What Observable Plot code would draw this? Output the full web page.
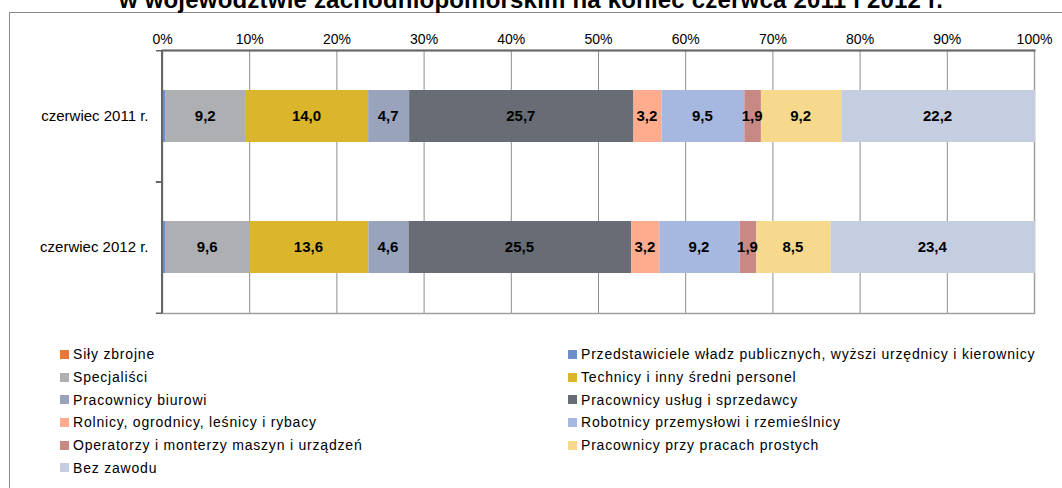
<!DOCTYPE html>
<html>
<head>
<meta charset="utf-8">
<script src="https://cdn.jsdelivr.net/npm/d3@7"></script>
<script src="https://cdn.jsdelivr.net/npm/@observablehq/plot@0.6"></script>
<style>
  html, body { margin: 0; padding: 0; background: #fff; }
  body { width: 1062px; height: 488px; overflow: hidden; position: relative; font-family: "Liberation Sans", Arial, sans-serif; }
  #frame { position: absolute; left: 9px; top: 12px; width: 1100px; height: 600px; border: 1px solid #8a8a8a; box-sizing: border-box; }
  #title { position: absolute; left: 0; width: 1062px; top: -12px; text-align: center; font-weight: bold; font-size: 24px; line-height: 24px; color: #000; white-space: nowrap; letter-spacing: 0.2px; }
  #chart { position: absolute; left: 0; top: 0; }
  #legend { position: absolute; left: 60px; top: 343px; display: grid; grid-template-columns: 508px auto; grid-auto-rows: 22.7px; font-size: 14px; letter-spacing: 0.8px; color: #000; }
  .item { display: flex; align-items: center; white-space: nowrap; }
  .sw { width: 9px; height: 9px; margin-right: 4px; flex: none; }
</style>
</head>
<body>
<div id="frame"></div>
<div id="title">w województwie zachodniopomorskim na koniec czerwca 2011 i 2012 r.</div>
<div id="chart"></div>
<div id="legend"></div>
<script>
const categories = ["czerwiec 2011 r.", "czerwiec 2012 r."];
const seriesNames = [
  "Siły zbrojne",
  "Przedstawiciele władz publicznych, wyższi urzędnicy i kierownicy",
  "Specjaliści",
  "Technicy i inny średni personel",
  "Pracownicy biurowi",
  "Pracownicy usług i sprzedawcy",
  "Rolnicy, ogrodnicy, leśnicy i rybacy",
  "Robotnicy przemysłowi i rzemieślnicy",
  "Operatorzy i monterzy maszyn i urządzeń",
  "Pracownicy przy pracach prostych",
  "Bez zawodu"
];
const values2011 = [0.0, 0.3, 9.2, 14.0, 4.7, 25.7, 3.2, 9.5, 1.9, 9.2, 22.2];
const values2012 = [0.0, 0.3, 9.6, 13.6, 4.6, 25.5, 3.2, 9.2, 1.9, 8.5, 23.4];
const seriesColors = ["#E07B39", "#6F8FCB", "#ADAFB3", "#DBB52B", "#99A3BC", "#686C74", "#FFAB8D", "#A6B8E0", "#C88884", "#F6D98C", "#C5CDE1"];
const xTicks = [0, 0.1, 0.2, 0.3, 0.4, 0.5, 0.6, 0.7, 0.8, 0.9, 1.0];

const rows = [];
[values2011, values2012].forEach((vals, ci) => {
  vals.forEach((v, si) => rows.push({year: categories[ci], cat: seriesNames[si], value: v}));
});

const fmt = v => v.toFixed(1).replace(".", ",");
const stackOpts = {x: "value", y: "year", z: "cat", order: seriesNames, offset: "normalize"};

const plotTop = 50, plotBottom = 313;
const step = (plotBottom - plotTop) / categories.length;

const chart = Plot.plot({
  width: 1062,
  height: 330,
  marginTop: plotTop,
  marginBottom: 330 - plotBottom,
  marginLeft: 162,
  marginRight: 28,
  style: {fontFamily: "'Liberation Sans', Arial, sans-serif", background: "transparent"},
  x: {domain: [0, 1], axis: null},
  y: {domain: categories, paddingInner: 0.6, paddingOuter: 0.3, axis: null},
  color: {domain: seriesNames, range: seriesColors},
  marks: [
    Plot.gridX(xTicks, {stroke: "#8c8c8c", strokeOpacity: 1, strokeWidth: 1}),
    Plot.frame({stroke: "#a0a0a0", strokeWidth: 1.5}),
    Plot.barX(rows, Plot.stackX({...stackOpts, fill: "cat", dx: 1})),
    Plot.text(rows, Plot.stackX({...stackOpts, text: d => d.value >= 1 ? fmt(d.value) : "", fill: "#000", fontWeight: "bold", fontSize: 15, letterSpacing: 0.9})),
    Plot.ruleX([0], {stroke: "#666", strokeWidth: 2, dx: -0.5}),
    Plot.frame({anchor: "top", stroke: "#666", strokeWidth: 2}),
    Plot.ruleY(categories, {y: d => d, dy: -step / 2, x1: -0.007, x2: 0, stroke: "#666", strokeWidth: 1.5}),
    Plot.ruleY(categories, {y: d => d, dy: step / 2, x1: -0.007, x2: 0, stroke: "#666", strokeWidth: 1.5}),
    Plot.axisX(xTicks, {anchor: "top", tickSize: 0, tickPadding: 7, tickFormat: d => Math.round(d * 100) + "%", fontSize: 14, fill: "#000", label: null, letterSpacing: 0.3}),
    Plot.axisY({tickSize: 0, tickPadding: 14, fontSize: 15, fill: "#000", label: null, letterSpacing: 0.6})
  ]
});
document.getElementById("chart").appendChild(chart);

const legend = document.getElementById("legend");
seriesNames.forEach((name, i) => {
  const item = document.createElement("div");
  item.className = "item";
  const sw = document.createElement("span");
  sw.className = "sw";
  sw.style.background = seriesColors[i];
  const tx = document.createElement("span");
  tx.textContent = name;
  item.appendChild(sw);
  item.appendChild(tx);
  legend.appendChild(item);
});
</script>
</body>
</html>
